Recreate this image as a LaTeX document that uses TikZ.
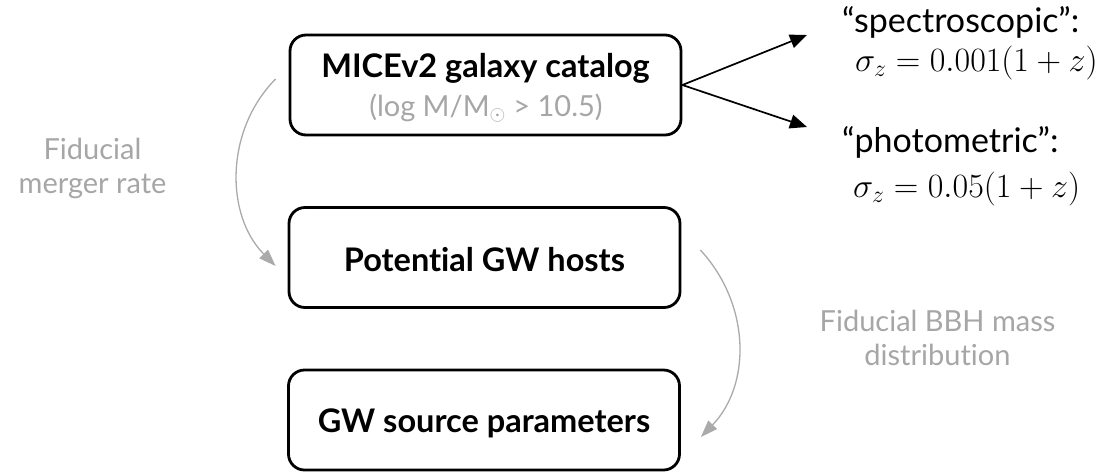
\RequirePackage{fix-cm}
\documentclass[tikz,border=0pt]{standalone}
\usepackage{fontspec}
\setmainfont{Lato}[Ligatures=NoCommon]
\usetikzlibrary{arrows.meta}
\definecolor{lbl}{RGB}{166,166,166}
\definecolor{arc}{RGB}{170,170,170}
\tikzset{
  box/.style={draw=black, line width=2.8pt, rounded corners=16pt, minimum width=391pt, minimum height=100pt, inner sep=0pt},
  title/.style={font=\fontsize{32.5}{38}\selectfont\bfseries, anchor=base, inner sep=0pt},
  sub/.style={font=\fontsize{29}{34}\selectfont, text=lbl, anchor=base, inner sep=0pt},
  glabel/.style={font=\fontsize{29}{34.5}\selectfont, text=lbl, anchor=base, inner sep=0pt},
  rtext/.style={font=\fontsize{34}{40}\selectfont, anchor=base west, inner sep=0pt},
  barrow/.style={draw=black, line width=1.7pt, -{Triangle[length=17pt,width=14pt]}},
  garrow/.style={draw=arc, line width=1.3pt, -{Triangle[length=17pt,width=12pt]}},
}
\begin{document}
\begin{tikzpicture}[x=1pt,y=-1pt]
\useasboundingbox (0,0) rectangle (1103,472);
\node[box] (b1) at (485.5,85) {};
\node[box] (b2) at (484.5,257.5) {};
\node[box] (b3) at (484,420) {};
\node[title] (t1) at (485.5,77) {MICEv2 galaxy catalog};
\node[sub] (s1) at (486,116) {(log M/M$_\odot$ > 10.5)};
\node[title] (t2) at (484.5,271) {Potential GW hosts};
\node[title] (t3) at (484,432) {GW source parameters};
\node[rtext] (spec) at (842,32) {“spectroscopic”:};
\node[rtext] (specm) at (855,71) {$\sigma_z = 0.001(1+z)$};
\node[rtext] (phot) at (842,152) {“photometric”:};
\node[rtext] (photm) at (853,197) {$\sigma_z = 0.05(1+z)$};
\node[glabel] (g1a) at (92.5,159) {Fiducial};
\node[glabel] (g1b) at (92.5,193) {merger rate};
\node[glabel] (g2a) at (937.5,331) {Fiducial BBH mass};
\node[glabel] (g2b) at (937.5,365) {distribution};
\coordinate (sp) at (807,35);
\coordinate (ph) at (807,127);
\draw[barrow] (b1.east) -- (sp);
\draw[barrow] (b1.east) -- (ph);
\coordinate (a1s) at ([xshift=-13pt,yshift=6pt]b1.west);
\coordinate (a1e) at ([xshift=-12pt,yshift=-8.5pt]b2.west);
\draw[garrow] (a1s) .. controls (225,130) and (225,215) .. (a1e);
\coordinate (a2s) at ([xshift=19pt,yshift=7.5pt]b2.east);
\coordinate (a2e) at ([xshift=20pt,yshift=-17pt]b3.east);
\draw[garrow] (a2s) .. controls (751,305) and (751,385) .. (a2e);
\end{tikzpicture}
\end{document}
